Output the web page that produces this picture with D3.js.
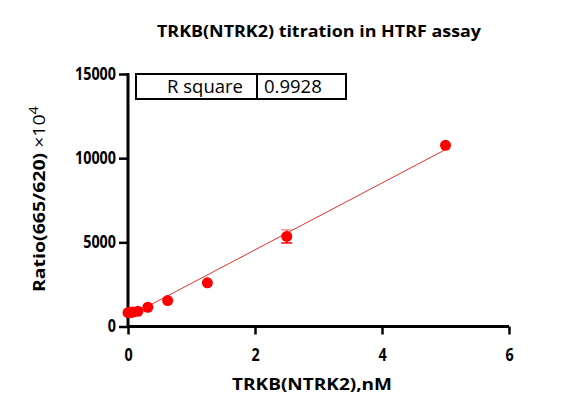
<!DOCTYPE html>
<html>
<head>
<meta charset="utf-8">
<script src="https://cdn.jsdelivr.net/npm/d3@7"></script>
<style>
  body { margin: 0; background: #fff; }
  text { font-family: "Open Sans", "Noto Sans", sans-serif; fill: #000; }
</style>
</head>
<body>
<svg id="chart" width="577" height="418"></svg>
<script>
// concentrations (nM) and HTRF ratio readings
const conc = [0, 0.0195, 0.039, 0.078, 0.156, 0.3125, 0.625, 1.25, 2.5, 5];
const ratio = [820, 830, 840, 860, 900, 1144, 1538, 2593, 5352, 10760];
const sem = [0, 0, 0, 0, 0, 0, 0, 0, 390, 0];
const xTicks = [0, 2, 4, 6];
const yTicks = [0, 5000, 10000, 15000];
const rSquare = "0.9928";

const svg = d3.select('#chart');
const plotL = 128, plotR = 509, plotT = 74, plotB = 326.5;

const x = d3.scaleLinear().domain([0, 6]).range([plotL, plotR]);
const y = d3.scaleLinear().domain([0, 15000]).range([plotB, plotT]);

// title
svg.append('text')
  .attr('x', 319).attr('y', 37)
  .attr('text-anchor', 'middle')
  .attr('font-weight', 'bold').attr('font-size', 15.5)
  .attr('textLength', 324).attr('lengthAdjust', 'spacingAndGlyphs')
  .text('TRKB(NTRK2) titration in HTRF assay');

// axes
const xAxis = d3.axisBottom(x).tickValues(xTicks).tickSize(8).tickPadding(14).tickFormat(d3.format('d'));
const yAxis = d3.axisLeft(y).tickValues(yTicks).tickSize(9).tickPadding(3).tickFormat(d3.format('d'));

const gx = svg.append('g').attr('transform', `translate(0,${plotB})`).call(xAxis);
const gy = svg.append('g').attr('transform', `translate(${plotL},0)`).call(yAxis);

[gx, gy].forEach(g => {
  g.select('.domain').attr('stroke', '#000').attr('stroke-width', 3);
  g.selectAll('.tick line').attr('stroke', '#000').attr('stroke-width', 2.5);
  g.selectAll('.tick text').attr('font-size', 17).attr('font-weight', 'bold')
    .style('font-family', '"Open Sans", sans-serif').attr('fill', '#000')
    .attr('textLength', function () { return this.textContent.length * 8.2; })
    .attr('lengthAdjust', 'spacingAndGlyphs');
});
gx.select('.domain').attr('d', `M${plotL},0H${plotR}`);
gy.select('.domain').attr('d', `M0,${plotT - 1}V${plotB}`);

// axis titles
svg.append('text')
  .attr('x', 312).attr('y', 390)
  .attr('text-anchor', 'middle')
  .attr('font-weight', 'bold').attr('font-size', 16)
  .attr('textLength', 160).attr('lengthAdjust', 'spacingAndGlyphs')
  .text('TRKB(NTRK2),nM');

const yt = svg.append('text')
  .attr('transform', 'translate(45,199) rotate(-90)')
  .attr('text-anchor', 'middle')
  .attr('font-size', 16)
  .attr('textLength', 186).attr('lengthAdjust', 'spacingAndGlyphs');
yt.append('tspan').attr('font-weight', 'bold').text('Ratio(665/620) ');
yt.append('tspan').text('×10');
yt.append('tspan').attr('font-size', 12).attr('dy', -7).text('4');

// linear fit through the points
const mx = d3.mean(conc), my = d3.mean(ratio);
const slope = d3.sum(conc, (c, i) => (c - mx) * (ratio[i] - my)) / d3.sum(conc, c => (c - mx) * (c - mx));
const icpt = my - slope * mx;
const xr = d3.extent(conc);
svg.append('line')
  .attr('x1', x(xr[0])).attr('y1', y(icpt + slope * xr[0]))
  .attr('x2', x(xr[1])).attr('y2', y(icpt + slope * xr[1]))
  .attr('stroke', '#e83030').attr('stroke-width', 1);

// error bars
const eb = svg.append('g').attr('stroke', 'red').attr('stroke-width', 1.5);
conc.forEach((c, i) => {
  if (!sem[i]) return;
  const cx = x(c);
  eb.append('line').attr('x1', cx).attr('x2', cx).attr('y1', y(ratio[i] - sem[i])).attr('y2', y(ratio[i] + sem[i]));
  eb.append('line').attr('x1', cx - 5.5).attr('x2', cx + 5.5).attr('y1', y(ratio[i] - sem[i])).attr('y2', y(ratio[i] - sem[i]));
  eb.append('line').attr('x1', cx - 5.5).attr('x2', cx + 5.5).attr('y1', y(ratio[i] + sem[i])).attr('y2', y(ratio[i] + sem[i]))
    .attr('stroke', '#e89090');
});

// points
svg.append('g').selectAll('circle')
  .data(conc)
  .enter()
  .append('circle')
  .attr('cx', d => x(d))
  .attr('cy', (d, i) => y(ratio[i]))
  .attr('r', 5.5)
  .attr('fill', '#ff0000');

// R square table
const tb = svg.append('g');
tb.append('rect').attr('x', 136).attr('y', 74).attr('width', 210).attr('height', 25)
  .attr('fill', '#fff').attr('stroke', '#000').attr('stroke-width', 2);
tb.append('line').attr('x1', 257).attr('x2', 257).attr('y1', 74).attr('y2', 99)
  .attr('stroke', '#000').attr('stroke-width', 2);
tb.append('text').attr('x', 243).attr('y', 93).attr('text-anchor', 'end')
  .attr('font-size', 18.5).text('R square');
tb.append('text').attr('x', 264).attr('y', 93)
  .attr('font-size', 18.5).text(rSquare);
</script>
</body>
</html>
